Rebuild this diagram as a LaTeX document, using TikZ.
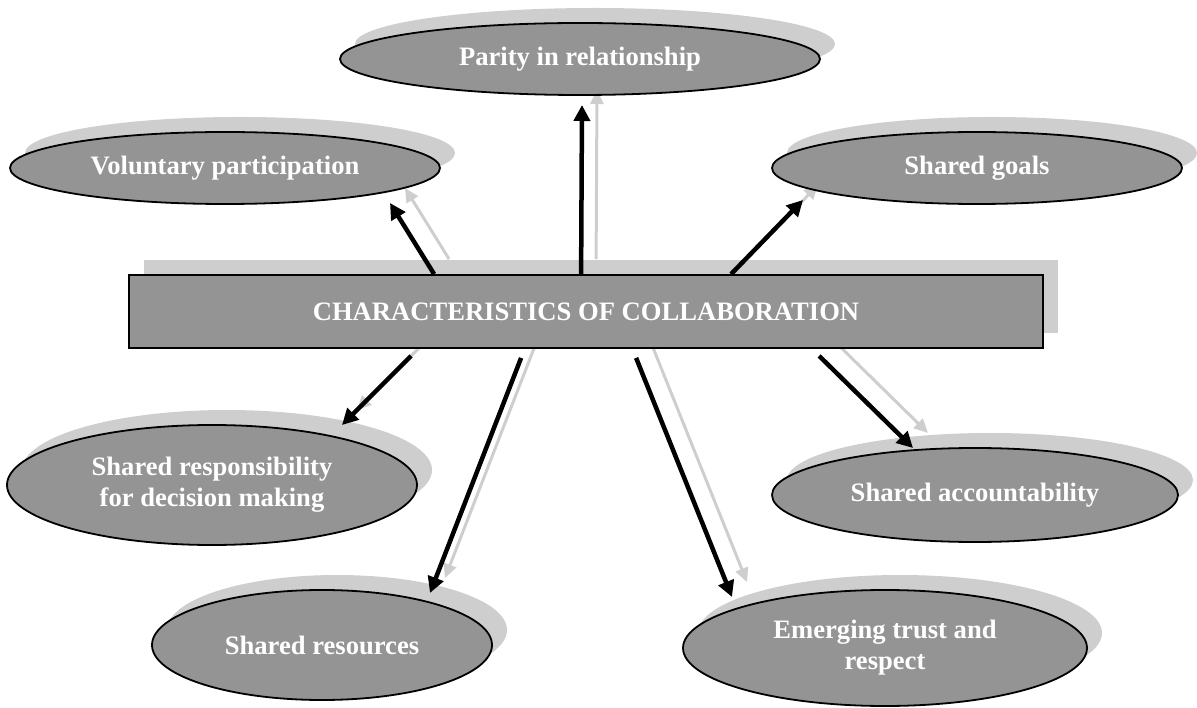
\documentclass[tikz,border=0pt]{standalone}
\usepackage{fontspec}
\setmainfont{Liberation Serif}
\usetikzlibrary{shapes.geometric,shadows,arrows.meta,calc}
\pgfdeclarelayer{background}
\pgfsetlayers{background,main}
\definecolor{boxfill}{RGB}{148,148,148}
\definecolor{shadowgray}{RGB}{206,206,206}
\tikzset{
  lbl/.style={text=white, font=\fontsize{26.6}{31}\selectfont\bfseries, align=center},
  oval/.style={ellipse, draw=black, line width=1.8pt, fill=boxfill, inner sep=0pt, lbl,
    drop shadow={shadow xshift=15pt, shadow yshift=15pt, fill=shadowgray, opacity=1}},
  titlebox/.style={rectangle, draw=black, line width=1.8pt, fill=boxfill, inner sep=0pt, lbl,
    drop shadow={shadow xshift=15pt, shadow yshift=15pt, fill=shadowgray, opacity=1}},
  link/.style={line width=4.5pt, black, -{Triangle[length=16pt,width=16pt]}},
  linkshadow/.style={line width=3pt, shadowgray, -{Triangle[length=14pt,width=13pt]}}
}
\begin{document}
\begin{tikzpicture}[x=1pt,y=-1pt]
\useasboundingbox (0,0) rectangle (1197,708);

% central box and the seven characteristics
\node[titlebox, minimum width=914pt, minimum height=73pt] (main) at (586,311.5) {CHARACTERISTICS OF COLLABORATION};
\node[oval, minimum width=480pt, minimum height=72pt] (par) at (580,59) {Parity in relationship};
\node[oval, minimum width=430pt, minimum height=72pt] (vol) at (225,168) {Voluntary participation};
\node[oval, minimum width=410pt, minimum height=72pt] (goal) at (977,168) {Shared goals};
\node[oval, minimum width=410pt, minimum height=120pt] (resp) at (212,485) {Shared responsibility\\for decision making};
\node[oval, minimum width=406pt, minimum height=94pt] (acc) at (975,495) {Shared accountability};
\node[oval, minimum width=340pt, minimum height=110pt] (res) at (322,645) {Shared resources};
\node[oval, minimum width=404pt, minimum height=116pt] (emer) at (885,648) {Emerging trust and\\respect};

% grey shadows of the arrows, offset up and right, behind everything
\begin{pgfonlayer}{background}
\foreach \a/\ax/\ay/\b/\bx/\by in {
  north west/306/0/vol/165/35,
  north west/453/0/par/2/46,
  north west/603/0/goal/-174/32,
  south west/283/7/resp/130/-60,
  south west/393/9/res/108/-52,
  south west/508/9/emer/-153/-51,
  south west/691/7/acc/-62/-47}{
  \draw[linkshadow] ($(main.\a)+(\ax,\ay)+(15,-15)$) -- ($(\b.center)+(\bx,\by)+(15,-15)$);
}
\end{pgfonlayer}

% arrows from the box edge to each oval
\foreach \a/\ax/\ay/\b/\bx/\by in {
  north west/306/0/vol/165/35,
  north west/453/0/par/2/46,
  north west/603/0/goal/-174/32,
  south west/283/7/resp/130/-60,
  south west/393/9/res/108/-52,
  south west/508/9/emer/-153/-51,
  south west/691/7/acc/-62/-47}{
  \draw[link] ($(main.\a)+(\ax,\ay)$) -- ($(\b.center)+(\bx,\by)$);
}
\end{tikzpicture}
\end{document}
